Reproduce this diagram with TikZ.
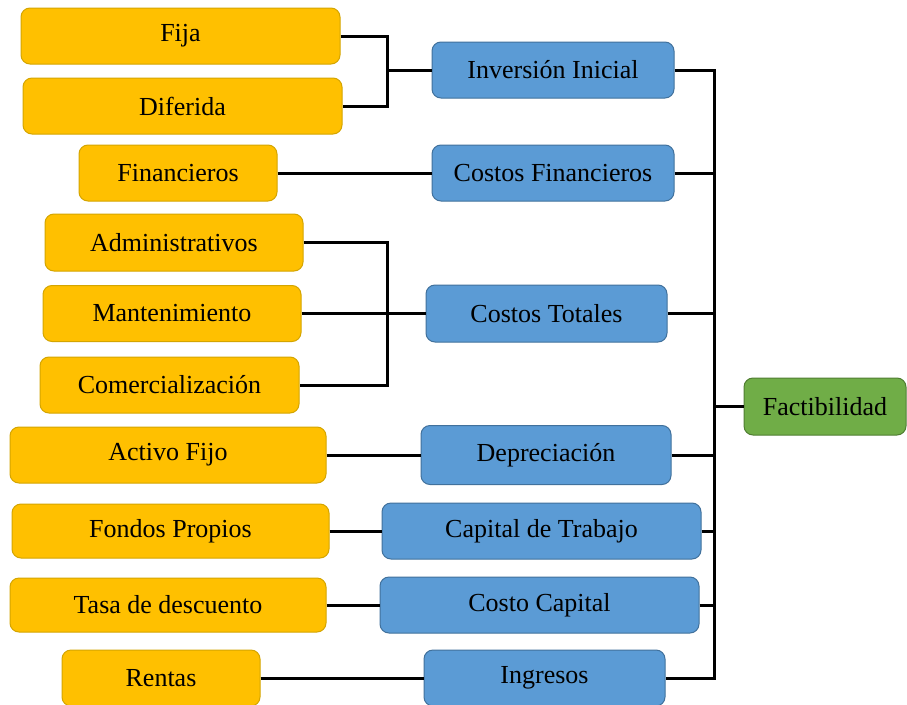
\documentclass[tikz,border=0pt]{standalone}
\usepackage{fontspec}
\setmainfont{Liberation Serif}
\definecolor{orfill}{HTML}{FFC000}
\definecolor{ordraw}{HTML}{D4A500}
\definecolor{blfill}{HTML}{5B9BD5}
\definecolor{bldraw}{HTML}{41719C}
\definecolor{grfill}{HTML}{70AD47}
\definecolor{grdraw}{HTML}{507E32}
\tikzset{
  boxbase/.style={rectangle, rounded corners=9pt, line width=1pt, inner sep=0pt,
    font=\fontsize{26}{30}\selectfont, text=black},
  obox/.style={boxbase, fill=orfill, draw=ordraw},
  bbox/.style={boxbase, fill=blfill, draw=bldraw},
  gbox/.style={boxbase, fill=grfill, draw=grdraw},
  conn/.style={draw=black, line width=3pt},
}
\begin{document}
\begin{tikzpicture}[x=1pt,y=1pt]
\useasboundingbox (0,0) rectangle (907,-704);
\clip (0,0) rectangle (907,-704);
\fill[white] (0,0) rectangle (907,-704);
% orange boxes
\node[obox, minimum width=319pt, minimum height=56pt] (fija) at (180.5,-36) {Fija};
\node[obox, minimum width=319pt, minimum height=56pt] (diferida) at (182.5,-106) {Diferida};
\node[obox, minimum width=198pt, minimum height=56pt] (financieros) at (178,-173) {Financieros};
\node[obox, minimum width=258pt, minimum height=57pt] (admin) at (174,-242.5) {Administrativos};
\node[obox, minimum width=258pt, minimum height=56pt] (mant) at (172,-313.5) {Mantenimiento};
\node[obox, minimum width=259pt, minimum height=56pt] (comerc) at (169.5,-385) {Comercialización};
\node[obox, minimum width=316pt, minimum height=56pt] (activo) at (168,-455) {Activo Fijo};
\node[obox, minimum width=317pt, minimum height=54pt] (fondos) at (170.5,-531) {Fondos Propios};
\node[obox, minimum width=316pt, minimum height=54pt] (tasa) at (168,-605) {Tasa de descuento};
\node[obox, minimum width=198pt, minimum height=56pt] (rentas) at (161,-678) {Rentas};
% blue boxes
\node[bbox, minimum width=242pt, minimum height=56pt] (inv) at (553,-70) {Inversión Inicial};
\node[bbox, minimum width=242pt, minimum height=56pt] (cfin) at (553,-173) {Costos Financieros};
\node[bbox, minimum width=241pt, minimum height=57pt] (ctot) at (546.5,-313.5) {Costos Totales};
\node[bbox, minimum width=250pt, minimum height=59pt] (dep) at (546,-455) {Depreciación};
\node[bbox, minimum width=319pt, minimum height=56pt] (ctrab) at (541.5,-531) {Capital de Trabajo};
\node[bbox, minimum width=319pt, minimum height=56pt] (ccap) at (539.5,-605) {Costo Capital};
\node[bbox, minimum width=241pt, minimum height=56pt] (ing) at (544.5,-678) {Ingresos};
% green box
\node[gbox, minimum width=162pt, minimum height=57pt] (fact) at (825,-406.5) {Factibilidad};
% junction coordinates
\coordinate (b1) at (387,-70);
\coordinate (b2) at (387,-313.5);
\coordinate (t) at (714,0);
% left brackets
\draw[conn] (fija.east) -- (fija.east -| b1) |- (diferida.east);
\draw[conn] (b1) -- (inv.west);
\draw[conn] (admin.east) -- (admin.east -| b2) |- (comerc.east);
\draw[conn] (mant.east) -- (ctot.west);
% single connectors
\draw[conn] (financieros.east) -- (cfin.west);
\draw[conn] (activo.east) -- (dep.west);
\draw[conn] (fondos.east) -- (ctrab.west);
\draw[conn] (tasa.east) -- (ccap.west);
\draw[conn] (rentas.east) -- (ing.west);
% trunk
\draw[conn] (inv.east) -- (inv.east -| t) |- (ing.east);
\draw[conn] (cfin.east) -- (cfin.east -| t);
\draw[conn] (ctot.east) -- (ctot.east -| t);
\draw[conn] (dep.east) -- (dep.east -| t);
\draw[conn] (ctrab.east) -- (ctrab.east -| t);
\draw[conn] (ccap.east) -- (ccap.east -| t);
\draw[conn] (t |- fact.west) -- (fact.west);
\end{tikzpicture}
\end{document}
